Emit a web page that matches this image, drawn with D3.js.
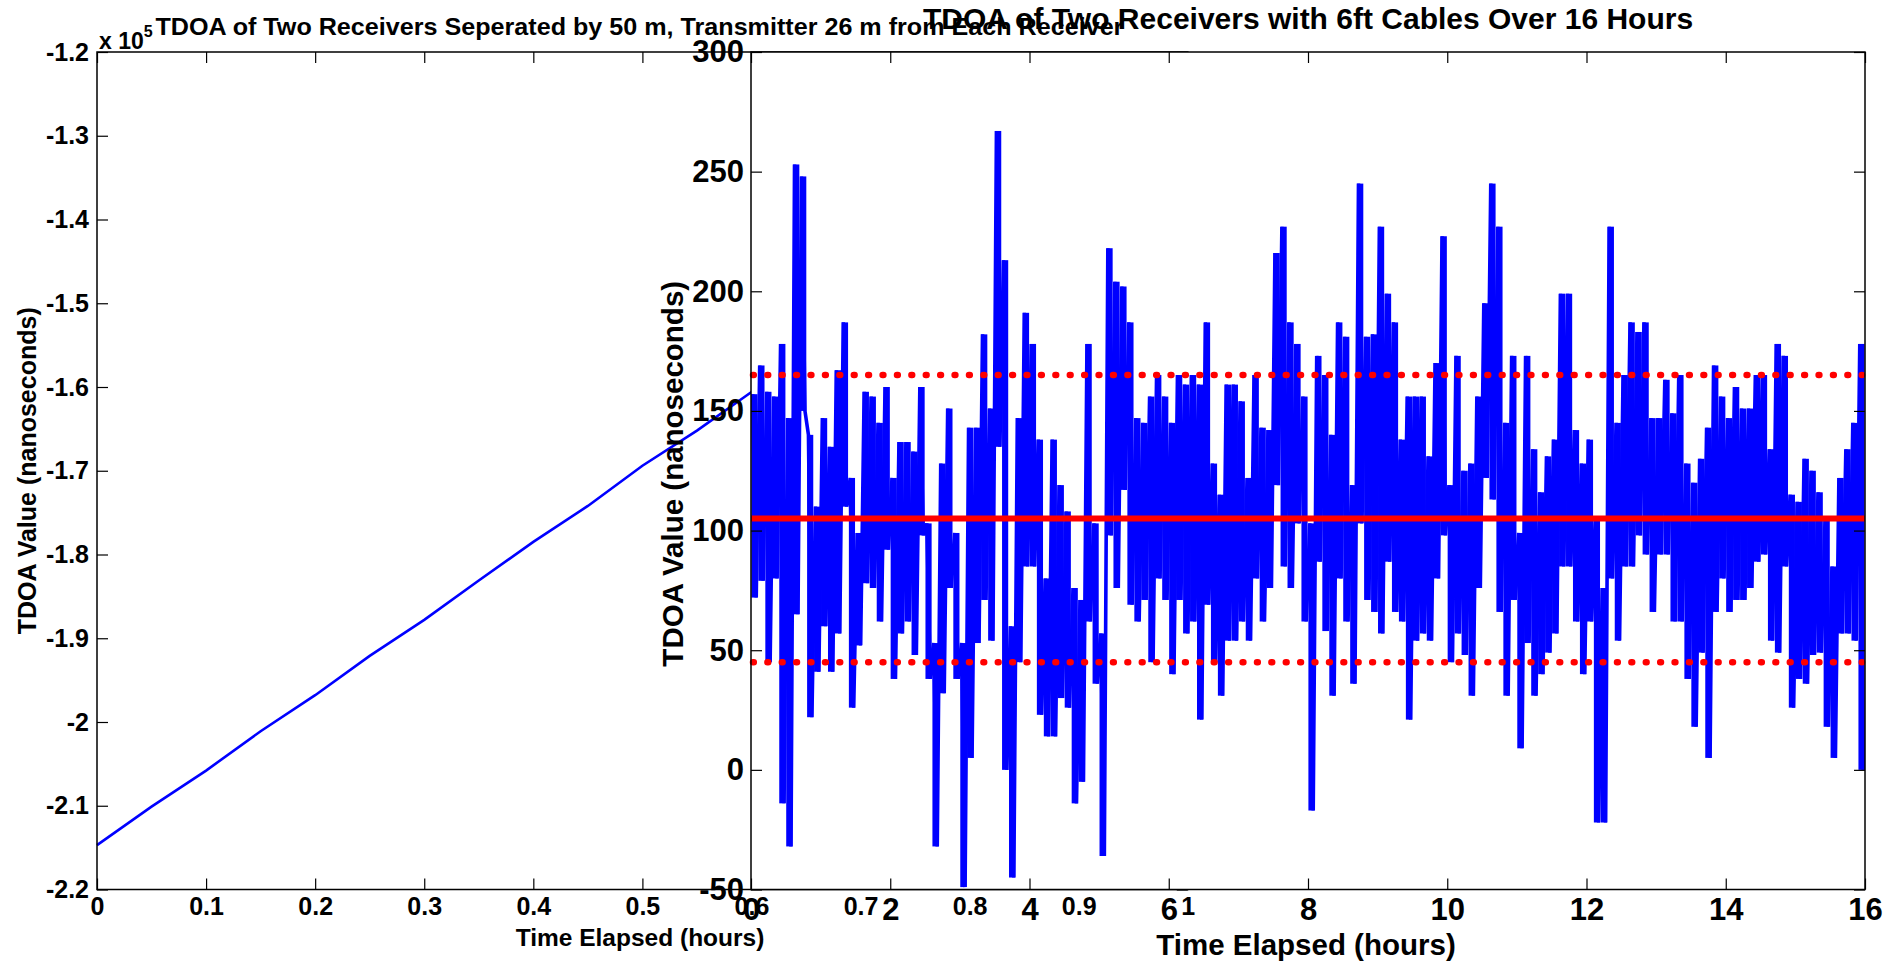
<!DOCTYPE html>
<html><head><meta charset="utf-8">
<script src="https://cdn.jsdelivr.net/npm/d3@7"></script>
<style>
body{margin:0;background:#fff;}
svg text{font-family:"Liberation Sans",Arial,Helvetica,sans-serif;font-weight:bold;fill:#000;}
</style></head>
<body>
<svg id="c" width="1895" height="966"></svg>
<script>
// ---------- Left chart data (TDOA in units of 1e5 ns) ----------
const leftHours = [0, 0.05, 0.1, 0.15, 0.2, 0.25, 0.3, 0.35, 0.4, 0.45, 0.5, 0.55, 0.6];
const leftTdoaE5 = [-2.147, -2.101, -2.058, -2.011, -1.968, -1.921, -1.878, -1.831, -1.785, -1.742, -1.694, -1.652, -1.606];
const leftXTicks = [0, 0.1, 0.2, 0.3, 0.4, 0.5, 0.6, 0.7, 0.8, 0.9, 1];
const leftXTickLabels = ["0","0.1","0.2","0.3","0.4","0.5","0.6","0.7","0.8","0.9","1"];
const leftYTicks = [-2.2, -2.1, -2.0, -1.9, -1.8, -1.7, -1.6, -1.5, -1.4, -1.3, -1.2];
const leftYTickLabels = ["-2.2","-2.1","-2","-1.9","-1.8","-1.7","-1.6","-1.5","-1.4","-1.3","-1.2"];

// ---------- Right chart data: per 0.1-hour slot, highest and lowest TDOA (ns) ----------
const slotHigh = [157,169,158,156,178,147,253,248,140,110,147,135,167,187,122,99,158,156,145,160,
  122,137,137,133,160,103,53,128,151,99,53,143,143,182,151,267,213,60,147,191,
  178,138,80,138,119,108,76,71,178,103,57,218,204,202,187,147,145,156,165,156,
  145,165,161,165,161,187,128,115,161,161,154,122,165,143,142,216,227,187,178,156,
  103,173,165,140,187,181,119,245,181,182,227,199,187,138,156,156,156,131,170,223,
  119,173,125,128,156,195,245,227,145,173,99,173,134,116,131,138,199,199,142,128,
  138,105,76,227,145,165,187,183,187,147,147,163,149,165,128,120,130,143,169,156,
  147,160,151,151,165,165,134,178,173,115,112,130,125,116,104,85,122,134,145,178];
const slotLow = [72,79,45,80,-14,-32,65,150,22,41,60,41,57,110,26,52,78,76,62,92,
  38,57,62,48,98,38,-32,32,76,38,-49,5,53,71,54,135,0,-45,45,85,
  85,23,14,14,30,26,-14,-5,62,36,-36,98,76,117,69,62,71,45,80,71,
  40,71,57,62,21,69,45,31,54,54,62,54,80,62,76,119,85,76,103,62,
  -17,87,58,31,80,62,36,103,71,66,57,87,66,62,21,54,57,54,80,98,
  45,57,48,31,76,122,113,66,31,71,9,53,31,40,49,57,85,85,62,40,
  62,-22,-22,80,54,85,85,98,90,66,90,90,62,62,38,18,49,5,66,80,
  66,71,71,76,87,90,54,49,85,26,38,36,48,49,18,5,57,57,54,0];
const slotHours = 0.1;
const meanTdoa = 105;
const upperBound = 165;
const lowerBound = 45;
const rightXTicks = [0, 2, 4, 6, 8, 10, 12, 14, 16];
const rightXTickLabels = ["0","2","4","6","8","10","12","14","16"];
const rightYTicks = [-50, 0, 50, 100, 150, 200, 250, 300];
const rightYTickLabels = ["-50","0","50","100","150","200","250","300"];

// ---------- layout ----------
const svg = d3.select("#c");
const axTop = 52, axBottom = 889.5;
const lx = d3.scaleLinear().domain([0, 1]).range([97, 1187.8]);
const ly = d3.scaleLinear().domain([-2.2, -1.2]).range([axBottom, axTop]);
const rx = d3.scaleLinear().domain([0, 16]).range([751, 1865]);
const ry = d3.scaleLinear().domain([-50, 300]).range([axBottom, axTop]);
const tickLen = 11;

function styleAxis(g, size) {
  g.select(".domain").remove();
  g.selectAll("line").attr("stroke", "#000").attr("stroke-width", 1.2);
  g.selectAll("text").attr("font-size", size).attr("font-family", null).attr("fill", "#000");
  g.attr("font-family", null).attr("font-size", null);
}

// ===== LEFT AXES =====
const L = svg.append("g");
L.append("path")
  .datum(leftHours.map((h, i) => [h, leftTdoaE5[i]]))
  .attr("fill", "none").attr("stroke", "#0000ff").attr("stroke-width", 2.6)
  .attr("d", d3.line().x(d => lx(d[0])).y(d => ly(d[1])));

L.append("g").attr("transform", `translate(${lx(0)},0)`)
  .call(d3.axisLeft(ly).tickValues(leftYTicks).tickFormat((d, i) => leftYTickLabels[i])
    .tickSizeInner(-tickLen).tickSizeOuter(0).tickPadding(8))
  .call(g => styleAxis(g, 25));
L.append("g").attr("transform", `translate(${lx(1)},0)`)
  .call(d3.axisRight(ly).tickValues(leftYTicks).tickFormat("").tickSizeInner(-tickLen).tickSizeOuter(0))
  .call(g => styleAxis(g, 25));
L.append("g").attr("transform", `translate(0,${axBottom})`)
  .call(d3.axisBottom(lx).tickValues(leftXTicks).tickFormat((d, i) => leftXTickLabels[i])
    .tickSizeInner(-tickLen).tickSizeOuter(0).tickPadding(8))
  .call(g => styleAxis(g, 25));
L.append("g").attr("transform", `translate(0,${axTop})`)
  .call(d3.axisTop(lx).tickValues(leftXTicks).tickFormat("").tickSizeInner(-tickLen).tickSizeOuter(0))
  .call(g => styleAxis(g, 25));
L.append("rect").attr("x", lx(0)).attr("y", axTop).attr("width", lx(1) - lx(0)).attr("height", axBottom - axTop)
  .attr("fill", "none").attr("stroke", "#000").attr("stroke-width", 1.5);

// exponent label and title
const ex = L.append("text").attr("x", lx(0) + 2).attr("y", axTop - 3).attr("font-size", 23);
ex.append("tspan").text("x 10");
ex.append("tspan").attr("dy", -12).attr("font-size", 16).text("5");
L.append("text").attr("x", (lx(0) + lx(1)) / 2 - 3).attr("y", 35).attr("text-anchor", "middle")
  .attr("font-size", 24.5).attr("textLength", 968).attr("lengthAdjust", "spacingAndGlyphs")
  .text("TDOA of Two Receivers Seperated by 50 m, Transmitter 26 m from Each Receiver");
L.append("text").attr("x", 640).attr("y", 946).attr("text-anchor", "middle").attr("font-size", 24.5)
  .text("Time Elapsed (hours)");
L.append("text").attr("transform", `translate(27,${(axTop + axBottom) / 2}) rotate(-90)`)
  .attr("text-anchor", "middle").attr("dy", "0.35em").attr("font-size", 25)
  .text("TDOA Value (nanoseconds)");

// ===== RIGHT AXES =====
const R = svg.append("g");
R.append("rect").attr("x", rx(0)).attr("y", axTop).attr("width", rx(16) - rx(0)).attr("height", axBottom - axTop)
  .attr("fill", "#fff");

const series = [];
slotHigh.forEach((hi, i) => {
  const t0 = i * slotHours;
  series.push([t0 + 0.025, hi]);
  series.push([t0 + 0.075, slotLow[i]]);
});
const plot = R.append("g");
// dense sampled trace: the sweep of each slot's range, drawn as filled bands
const sweepPad = 0.4;
plot.append("g").attr("class", "sweeps").selectAll("rect").data(slotHigh).join("rect")
  .attr("x", (d, i) => rx(i * slotHours) + sweepPad)
  .attr("width", rx(slotHours) - rx(0) - 2 * sweepPad)
  .attr("y", d => ry(d))
  .attr("height", (d, i) => Math.abs(ry(slotLow[i]) - ry(d)))
  .attr("fill", "#0000ff");
plot.append("path").datum(series)
  .attr("fill", "none").attr("stroke", "#0000ff").attr("stroke-width", 3.6).attr("stroke-linejoin", "miter")
  .attr("d", d3.line().x(d => rx(d[0])).y(d => ry(d[1])));
plot.append("line").attr("x1", rx(0)).attr("x2", rx(16)).attr("y1", ry(meanTdoa)).attr("y2", ry(meanTdoa))
  .attr("stroke", "#ff0000").attr("stroke-width", 6);
[upperBound, lowerBound].forEach(v => {
  plot.append("line").attr("x1", rx(0) + 2).attr("x2", rx(16) - 3).attr("y1", ry(v)).attr("y2", ry(v))
    .attr("stroke", "#ff0000").attr("stroke-width", 6.5).attr("stroke-linecap", "round")
    .attr("stroke-dasharray", "0.8 13.6");
});

R.append("g").attr("transform", `translate(${rx(0)},0)`)
  .call(d3.axisLeft(ry).tickValues(rightYTicks).tickFormat((d, i) => rightYTickLabels[i])
    .tickSizeInner(-tickLen).tickSizeOuter(0).tickPadding(7))
  .call(g => styleAxis(g, 31));
R.append("g").attr("transform", `translate(${rx(16)},0)`)
  .call(d3.axisRight(ry).tickValues(rightYTicks).tickFormat("").tickSizeInner(-tickLen).tickSizeOuter(0))
  .call(g => styleAxis(g, 31));
R.append("g").attr("transform", `translate(0,${axBottom})`)
  .call(d3.axisBottom(rx).tickValues(rightXTicks).tickFormat((d, i) => rightXTickLabels[i])
    .tickSizeInner(-tickLen).tickSizeOuter(0).tickPadding(8))
  .call(g => styleAxis(g, 31));
R.append("g").attr("transform", `translate(0,${axTop})`)
  .call(d3.axisTop(rx).tickValues(rightXTicks).tickFormat("").tickSizeInner(-tickLen).tickSizeOuter(0))
  .call(g => styleAxis(g, 31));
R.append("rect").attr("x", rx(0)).attr("y", axTop).attr("width", rx(16) - rx(0)).attr("height", axBottom - axTop)
  .attr("fill", "none").attr("stroke", "#000").attr("stroke-width", 1.5);

R.append("text").attr("x", (rx(0) + rx(16)) / 2).attr("y", 29).attr("text-anchor", "middle")
  .attr("font-size", 30).text("TDOA of Two Receivers with 6ft Cables Over 16 Hours");
R.append("text").attr("x", 1306).attr("y", 955).attr("text-anchor", "middle").attr("font-size", 29.5)
  .text("Time Elapsed (hours)");
R.append("text").attr("transform", `translate(673,${(axTop + axBottom) / 2 + 3}) rotate(-90)`)
  .attr("text-anchor", "middle").attr("dy", "0.35em").attr("font-size", 29.5)
  .text("TDOA Value (nanoseconds)");
</script>
</body></html>
